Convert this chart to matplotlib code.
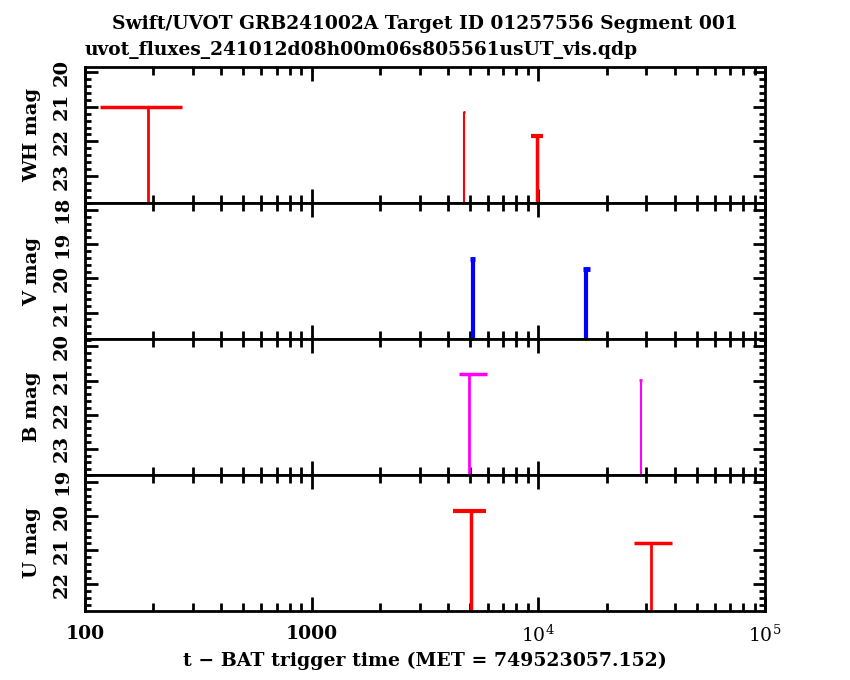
import numpy as np
import matplotlib
matplotlib.use("Agg")
import matplotlib.pyplot as plt
from matplotlib.ticker import FixedLocator, NullFormatter, MultipleLocator, FuncFormatter

# ---- data (upper limits) ----
wh_t = [190, 4700, 9850]
wh_tlo = [117, 4640, 9250]
wh_thi = [267, 4760, 10450]
wh_mag = [21.0, 21.16, 21.83]

v_t = [5130, 16300]
v_tlo = [5000, 15700]
v_thi = [5260, 16900]
v_mag = [19.44, 19.74]

b_t = [4930, 28300]
b_tlo = [4450, 27800]
b_thi = [5960, 28800]
b_mag = [20.82, 20.98]

u_t = [5045, 31400]
u_tlo = [4220, 26500]
u_thi = [5880, 38900]
u_mag = [19.85, 20.79]

bands = ["WH", "V", "B", "U"]
colors = ["#ff0000", "#0000ff", "#ff00ff", "#ff0000"]
ylims = [(23.78, 19.85), (21.77, 17.80), (23.77, 19.78), (22.78, 18.80)]
yticks = [[20, 21, 22, 23], [18, 19, 20, 21], [20, 21, 22, 23], [19, 20, 21, 22]]
series = [(wh_t, wh_tlo, wh_thi, wh_mag), (v_t, v_tlo, v_thi, v_mag),
          (b_t, b_tlo, b_thi, b_mag), (u_t, u_tlo, u_thi, u_mag)]
lws = [[2.0, 1.5, 2.5], [3.0, 3.0], [2.0, 1.5], [2.5, 2.0]]

title1 = "Swift/UVOT GRB241002A Target ID 01257556 Segment 001"
title2 = "uvot_fluxes_241012d08h00m06s805561usUT_vis.qdp"
xlabel = "t \u2212 BAT trigger time (MET = 749523057.152)"

FONT = "DejaVu Serif"
plt.rcParams['font.family'] = [FONT, 'DejaVu Sans']
plt.rcParams['mathtext.fontset'] = 'dejavuserif'

fig = plt.figure(figsize=(8.5, 6.8), dpi=100)
left, right = 85 / 850, 765 / 850
top = 1 - 67 / 680
ph = 136 / 680

majors = [100, 1000, 1e4, 1e5]
minors = [m * d for d in [100, 1000, 1e4] for m in range(2, 10)]

def xfmt(v, pos):
    if v < 5000:
        return "%d" % round(v)
    return r"$10^{%d}$" % round(np.log10(v))

axes = []
for i in range(4):
    ax = fig.add_axes([left, top - (i + 1) * ph, right - left, ph])
    axes.append(ax)
    t, tlo, thi, mag = series[i]
    ylo = ylims[i][0]
    ax.set_xscale("log")
    ax.set_xlim(100, 1e5)
    ax.set_ylim(*ylims[i])
    for k in range(len(t)):
        ax.hlines(mag[k], tlo[k], thi[k], colors=colors[i], lw=lws[i][k] + 0.5)
        ax.vlines(t[k], mag[k], ylo, colors=colors[i], lw=lws[i][k])
    ax.xaxis.set_major_locator(FixedLocator(majors))
    ax.xaxis.set_minor_locator(FixedLocator(minors))
    ax.xaxis.set_minor_formatter(NullFormatter())
    if i == 3:
        ax.xaxis.set_major_formatter(FuncFormatter(xfmt))
    else:
        ax.xaxis.set_major_formatter(NullFormatter())
    ax.yaxis.set_major_locator(FixedLocator(yticks[i]))
    ax.yaxis.set_minor_locator(MultipleLocator(0.2))
    ax.tick_params(axis="both", which="both", direction="in", top=True, right=True,
                   width=2, color="black")
    ax.tick_params(axis="x", which="major", length=10, labelsize=13.5, pad=10)
    ax.tick_params(axis="x", which="minor", length=6)
    ax.tick_params(axis="y", which="major", length=9, labelsize=14, pad=10)
    ax.tick_params(axis="y", which="minor", length=4)
    for lab in ax.get_yticklabels():
        lab.set_rotation(90)
        lab.set_va("center")
        lab.set_fontweight("bold")
    for lab in ax.get_xticklabels():
        lab.set_fontweight("bold")
    for s in ax.spines.values():
        s.set_linewidth(2)
    ax.set_ylabel(bands[i] + " mag", fontsize=14, fontweight="bold")
    ax.yaxis.set_label_coords(-0.065, 0.5)

axes[3].set_xlabel(xlabel, fontsize=13.6, fontweight="bold", labelpad=4)
fig.text(0.5 * (left + right), 1 - 24 / 680, title1, ha="center", va="center",
         fontsize=13.4, fontweight="bold")
fig.text(left, 1 - 50 / 680, title2, ha="left", va="center",
         fontsize=13.4, fontweight="bold")

fig.savefig("out.png", dpi=100, facecolor="white")
